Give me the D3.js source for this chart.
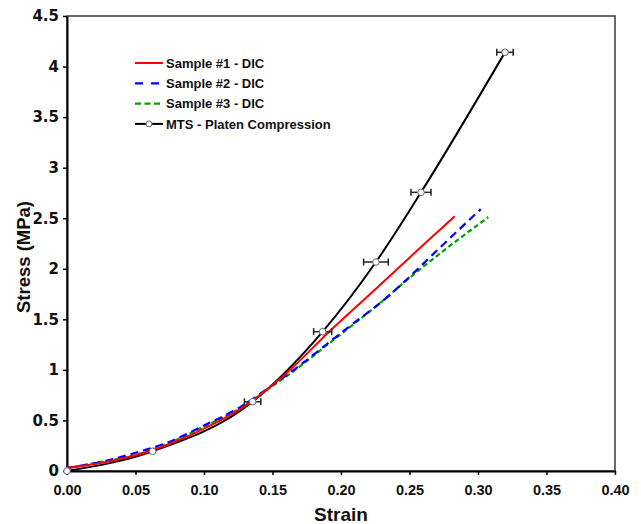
<!DOCTYPE html>
<html>
<head>
<meta charset="utf-8">
<script src="https://cdn.jsdelivr.net/npm/d3@7"></script>
<style>
  html, body { margin: 0; padding: 0; background: #fff; }
  svg { display: block; font-family: "Liberation Sans", Arial, sans-serif; }
</style>
</head>
<body>
<svg id="chart" width="641" height="524"></svg>
<script>
// ---- data ----
const xTicks = [0, 0.05, 0.10, 0.15, 0.20, 0.25, 0.30, 0.35, 0.40];
const xTickLabels = ["0.00", "0.05", "0.10", "0.15", "0.20", "0.25", "0.30", "0.35", "0.40"];
const yTicks = [0, 0.5, 1, 1.5, 2, 2.5, 3, 3.5, 4, 4.5];
const yTickLabels = ["0", "0.5", "1", "1.5", "2", "2.5", "3", "3.5", "4", "4.5"];

const seriesNames = ["Sample #1 - DIC", "Sample #2 - DIC", "Sample #3 - DIC", "MTS - Platen Compression"];

const s1Strain = [0, 0.025, 0.05, 0.075, 0.10, 0.125, 0.15, 0.1628, 0.19, 0.2285, 0.2564, 0.283];
const s1Stress = [0.03, 0.08, 0.155, 0.27, 0.42, 0.60, 0.85, 1.00, 1.36, 1.84, 2.19, 2.52];

const s2Strain = [0, 0.025, 0.05, 0.075, 0.10, 0.125, 0.15, 0.1676, 0.192, 0.21, 0.2285, 0.25, 0.27, 0.302];
const s2Stress = [0.03, 0.09, 0.18, 0.29, 0.45, 0.62, 0.85, 1.02, 1.28, 1.47, 1.66, 1.92, 2.18, 2.59];

const s3Strain = [0, 0.025, 0.05, 0.075, 0.10, 0.125, 0.15, 0.1676, 0.192, 0.21, 0.2285, 0.25, 0.275, 0.3075];
const s3Stress = [0.03, 0.09, 0.16, 0.28, 0.44, 0.61, 0.84, 1.01, 1.27, 1.46, 1.66, 1.91, 2.18, 2.51];

const mtsStrain = [0, 0.0625, 0.1355, 0.1866, 0.2255, 0.2584, 0.3197];
const mtsStress = [0, 0.195, 0.685, 1.378, 2.067, 2.756, 4.141];
const mtsStrainErr = [0, 0, 0.006, 0.0066, 0.009, 0.0073, 0.006];

// ---- layout ----
const svg = d3.select("#chart");
const x = d3.scaleLinear().domain([0, 0.4]).range([67, 615]);
const y = d3.scaleLinear().domain([0, 4.5]).range([471, 16]);

// frame (top/right)
svg.append("rect")
  .attr("x", x(0)).attr("y", y(4.5))
  .attr("width", x(0.4) - x(0)).attr("height", y(0) - y(4.5))
  .attr("fill", "none").attr("stroke", "#3a3a3a").attr("stroke-width", 1.5);

// axes
const xAxis = d3.axisBottom(x).tickValues(xTicks)
  .tickFormat((d, i) => xTickLabels[i]).tickSize(4).tickPadding(10).tickSizeOuter(0);
const yAxis = d3.axisLeft(y).tickValues(yTicks)
  .tickFormat((d, i) => yTickLabels[i]).tickSize(4).tickPadding(4).tickSizeOuter(0);

const gx = svg.append("g").attr("transform", `translate(0,${y(0)})`).call(xAxis);
const gy = svg.append("g").attr("transform", `translate(${x(0)},0)`).call(yAxis);
[gx, gy].forEach(g => {
  g.select(".domain").attr("stroke", "#000").attr("stroke-width", 2);
  g.selectAll(".tick line").attr("stroke", "#000").attr("stroke-width", 1.5);
  g.selectAll(".tick text").attr("fill", "#111").attr("font-weight", "bold");
});
gx.selectAll(".tick text").attr("font-size", 14.5)
  .attr("font-family", "'Liberation Sans', Arial, sans-serif");
gy.selectAll(".tick text").attr("font-size", 15)
  .attr("font-family", "'DejaVu Sans', sans-serif");

// axis titles
svg.append("text").attr("x", x(0.2)).attr("y", 521).attr("text-anchor", "middle")
  .attr("font-size", 19).attr("font-weight", "bold").attr("fill", "#111").text("Strain");
svg.append("text").attr("transform", "translate(29.5,257) rotate(-90)")
  .attr("text-anchor", "middle")
  .attr("font-size", 18.5).attr("font-weight", "bold").attr("fill", "#111").text("Stress (MPa)");

// series lines
const line = d3.line().x(d => x(d[0])).y(d => y(d[1])).curve(d3.curveMonotoneX);
const zip = (a, b) => a.map((v, i) => [v, b[i]]);

const mtsData = zip(mtsStrain, mtsStress);
svg.append("path").datum(mtsData).attr("d", line)
  .attr("fill", "none").attr("stroke", "#000").attr("stroke-width", 2);

svg.append("path").datum(zip(s3Strain, s3Stress)).attr("d", line)
  .attr("fill", "none").attr("stroke", "#00a000").attr("stroke-width", 2.2)
  .attr("stroke-dasharray", "5,3");
svg.append("path").datum(zip(s2Strain, s2Stress)).attr("d", line)
  .attr("fill", "none").attr("stroke", "#0000ff").attr("stroke-width", 2.2)
  .attr("stroke-dasharray", "8,5");
svg.append("path").datum(zip(s1Strain, s1Stress)).attr("d", line)
  .attr("fill", "none").attr("stroke", "#ff0000").attr("stroke-width", 2);

// error bars and markers for MTS
const eb = svg.append("g");
mtsData.forEach((d, i) => {
  const e = mtsStrainErr[i];
  if (e > 0) {
    const x0 = x(d[0] - e), x1 = x(d[0] + e), yy = y(d[1]);
    eb.append("line").attr("x1", x0).attr("x2", x1).attr("y1", yy).attr("y2", yy)
      .attr("stroke", "#222").attr("stroke-width", 1.5);
    [x0, x1].forEach(xx => eb.append("line").attr("x1", xx).attr("x2", xx)
      .attr("y1", yy - 3.5).attr("y2", yy + 3.5).attr("stroke", "#222").attr("stroke-width", 1.5));
  }
});
svg.append("g").selectAll("circle").data(mtsData).join("circle")
  .attr("cx", d => x(d[0])).attr("cy", d => y(d[1])).attr("r", 3.3)
  .attr("fill", "#fff").attr("stroke", "#666").attr("stroke-width", 1);

// legend
const legendStyles = [
  { color: "#ff0000", dash: null, width: 2 },
  { color: "#0000ff", dash: "8,8", width: 2.2 },
  { color: "#00a000", dash: "6,3.5", width: 2.2 },
  { color: "#000", dash: null, width: 2, marker: true }
];
const lg = svg.append("g");
seriesNames.forEach((name, i) => {
  const ly = 63 + i * 20.3;
  const st = legendStyles[i];
  lg.append("line").attr("x1", 135).attr("x2", 163).attr("y1", ly).attr("y2", ly)
    .attr("stroke", st.color).attr("stroke-width", st.width)
    .attr("stroke-dasharray", st.dash);
  if (st.marker) {
    lg.append("circle").attr("cx", 149).attr("cy", ly).attr("r", 3)
      .attr("fill", "#fff").attr("stroke", "#666").attr("stroke-width", 1);
  }
  lg.append("text").attr("x", 166).attr("y", ly + 4.6)
    .attr("font-size", 13).attr("font-weight", "bold").attr("fill", "#111").text(name);
});
</script>
</body>
</html>
